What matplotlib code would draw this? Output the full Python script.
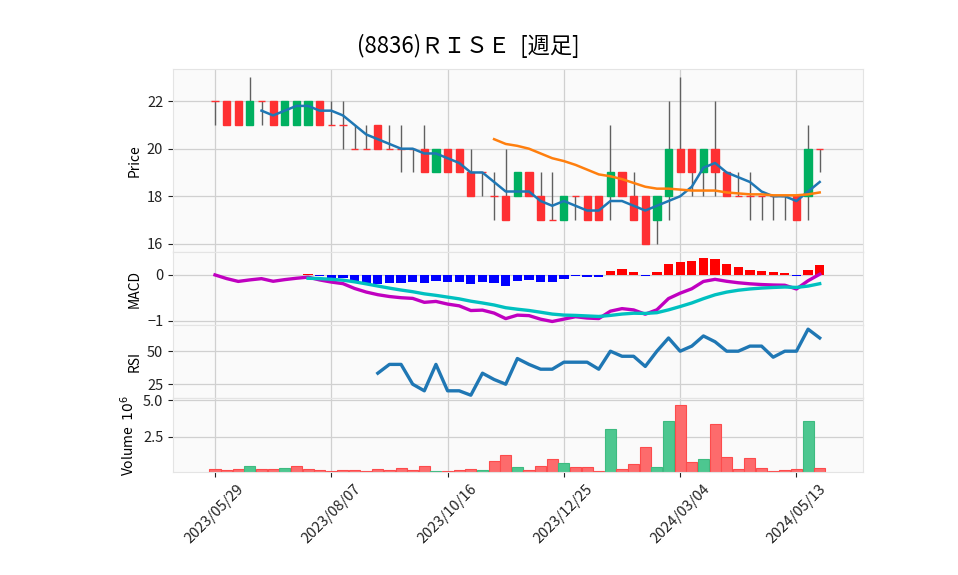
import matplotlib
matplotlib.use('Agg')
import matplotlib.pyplot as plt
from matplotlib.ticker import FuncFormatter
import numpy as np
import pandas as pd

plt.rcParams['font.family'] = ['Noto Sans CJK JP', 'DejaVu Sans']

title = '(8836)ＲＩＳＥ  [週足]'
start_date = '2023-05-29'

# weekly OHLC
opens = [22, 22, 22, 21, 22, 22, 21, 21, 21, 22, 21, 21, 20, 20, 21, 20, 20, 20,
         20, 19, 20, 20, 19, 19, 18, 18, 18, 19, 18, 17, 17, 18, 18, 18, 18, 19,
         18, 18, 17, 18, 20, 20, 19, 20, 19, 18, 18, 18, 18, 18, 18, 18, 20]
highs = [22, 22, 22, 23, 22, 22, 22, 22, 22, 22, 22, 22, 21, 21, 21, 21, 21, 20,
         21, 20, 20, 20, 20, 19, 19, 20, 19, 19, 19, 19, 18, 18, 18, 18, 21, 19,
         19, 18, 18, 22, 23, 20, 20, 22, 19, 19, 19, 18, 18, 18, 18, 21, 20]
lows = [21, 21, 21, 21, 21, 21, 21, 21, 21, 21, 21, 20, 20, 20, 20, 20, 19, 19,
        19, 19, 19, 19, 18, 18, 17, 17, 18, 18, 17, 17, 17, 17, 17, 17, 17, 18,
        17, 16, 16, 17, 19, 18, 18, 18, 18, 18, 17, 17, 17, 17, 17, 17, 19]
closes = [22, 21, 21, 22, 22, 21, 22, 22, 22, 21, 21, 21, 20, 20, 20, 20, 20, 20,
          19, 20, 19, 19, 18, 19, 18, 17, 19, 18, 17, 17, 18, 18, 17, 17, 19, 18,
          17, 16, 18, 20, 19, 19, 20, 19, 18, 18, 18, 18, 18, 18, 17, 20, 20]
volumes = [250000, 190000, 250000, 490000, 250000, 250000, 350000, 460000, 250000,
           190000, 120000, 190000, 190000, 120000, 250000, 190000, 320000, 190000,
           460000, 120000, 120000, 190000, 250000, 190000, 810000, 1230000, 420000,
           190000, 490000, 950000, 670000, 390000, 390000, 120000, 3060000, 250000,
           600000, 1780000, 420000, 3610000, 4700000, 740000, 970000, 3380000,
           1110000, 250000, 1020000, 320000, 120000, 190000, 250000, 3610000, 320000]

df = pd.DataFrame({'open': opens, 'high': highs, 'low': lows,
                   'close': closes, 'volume': volumes})
dates = pd.date_range(start_date, periods=len(df), freq='7D')
x = np.arange(len(df))

# indicators
ma5 = df['close'].rolling(5).mean()
ma25 = df['close'].rolling(25).mean()
ema12 = df['close'].ewm(span=12, adjust=False).mean()
ema26 = df['close'].ewm(span=26, adjust=False).mean()
macd = ema12 - ema26
signal = macd.ewm(span=9, adjust=False).mean()
signal[:8] = np.nan
hist = macd - signal
diff = df['close'].diff()
gain = diff.clip(lower=0).rolling(14).mean()
loss = (-diff.clip(upper=0)).rolling(14).mean()
rsi = 100 - 100 / (1 + gain / loss)

up_c, down_c = '#00b060', '#fe3032'
vol_up, vol_down = '#4dc790', '#fd6b6c'
bg = '#fafafa'
grid_c = '#d0d0d0'

fig = plt.figure(figsize=(9.58, 5.75), dpi=100)
gs = fig.add_gridspec(4, 1, height_ratios=[183, 72.5, 73, 74.5], hspace=0,
                      left=0.1806, right=0.9008, top=0.8795, bottom=0.1783)
ax_p = fig.add_subplot(gs[0])
ax_m = fig.add_subplot(gs[1], sharex=ax_p)
ax_r = fig.add_subplot(gs[2], sharex=ax_p)
ax_v = fig.add_subplot(gs[3], sharex=ax_p)
axes = [ax_p, ax_m, ax_r, ax_v]

tick_pos = x[::10]
for ax in axes:
    ax.set_facecolor(bg)
    ax.set_axisbelow(True)
    ax.grid(True, color=grid_c, linewidth=0.9)
    for s in ax.spines.values():
        s.set_color('#e4e4e4')
    ax.tick_params(axis='both', labelsize=10.5, colors='#222222', length=3.5, width=0.8)
    ax.set_xticks(tick_pos)
for ax in axes[:-1]:
    ax.tick_params(axis='x', labelbottom=False, length=0)

# candles
is_up = df['close'] > df['open']
body_col = [up_c if u else down_c for u in is_up]
ax_p.vlines(x, df['low'], df['high'], color='#606060', linewidth=1, zorder=2)
ax_p.bar(x, df['close'] - df['open'], bottom=df['open'], width=0.62,
         color=body_col, edgecolor=body_col, linewidth=1, zorder=3)
ax_p.plot(x, ma5, color='#1f77b4', linewidth=1.8, zorder=4)
ax_p.plot(x, ma25, color='#ff7f0e', linewidth=1.8, zorder=4)
ax_p.set_ylim(15.64, 23.34)
ax_p.set_yticks([16, 18, 20, 22])
ax_p.set_ylabel('Price', fontsize=10)

# MACD
hist_col = ['#ff0000' if h >= 0 else '#0000ff' for h in hist.fillna(0)]
ax_m.bar(x, hist, width=0.8, color=hist_col, zorder=2)
ax_m.plot(x, macd, color='#c000c0', linewidth=2.4, zorder=3)
ax_m.plot(x, signal, color='#00c0c0', linewidth=2.4, zorder=3)
ax_m.set_ylim(-1.087, 0.49)
ax_m.set_yticks([-1, 0])
ax_m.set_ylabel('MACD', fontsize=10)

# RSI
ax_r.plot(x, rsi, color='#1f77b4', linewidth=2.4)
ax_r.set_ylim(14.6, 69.9)
ax_r.set_yticks([25, 50])
ax_r.set_ylabel('RSI', fontsize=10)

# volume
vol_col = [vol_down] + [vol_up if c > p else vol_down
                        for p, c in zip(closes[:-1], closes[1:])]
vol_edge = ['#3dbb80' if c == vol_up else '#fd4b4c' for c in vol_col]
ax_v.bar(x, df['volume'], width=0.95, color=vol_col, edgecolor=vol_edge,
         linewidth=0.8, zorder=2)
ax_v.set_ylim(df['volume'].min() * 0.3, df['volume'].max() * 1.1)
ax_v.set_yticks([2.5e6, 5.0e6])
ax_v.yaxis.set_major_formatter(FuncFormatter(lambda v, p: f'{v / 1e6:.1f}'))
ax_v.set_ylabel('Volume  $10^{6}$', fontsize=10)

ax_v.set_xlim(-3.61, 55.72)
ax_v.set_xticklabels([d.strftime('%Y/%m/%d') for d in dates[::10]],
                     rotation=45, ha='center', fontsize=10.5)

fig.text(0.489, 0.92, title, ha='center', va='center', fontsize=16)

fig.savefig('out.png', dpi=100)
